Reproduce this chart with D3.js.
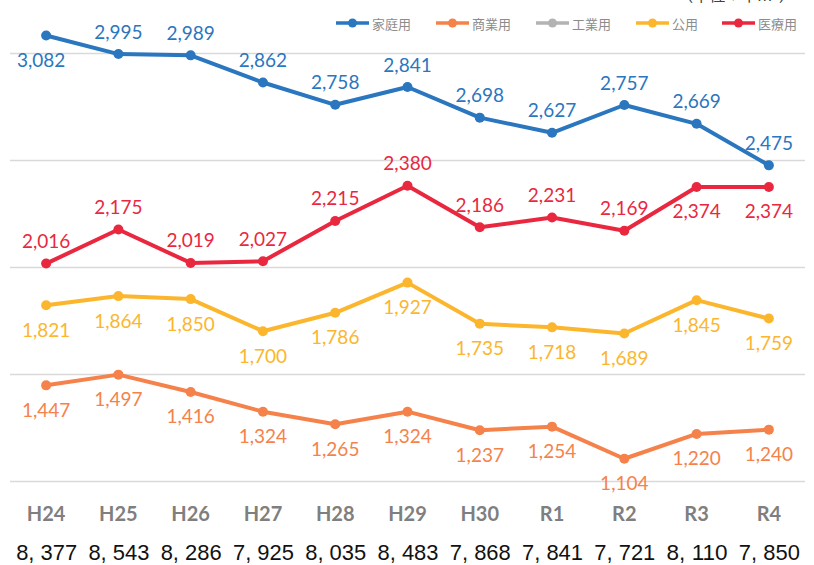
<!DOCTYPE html>
<html>
<head>
<meta charset="utf-8">
<script src="https://cdn.jsdelivr.net/npm/d3@7/dist/d3.min.js"></script>
<style>
  body { margin: 0; background: #fff; }
  svg { display: block; }
</style>
</head>
<body>
<svg id="chart" width="814" height="565"></svg>
<script>
// data
var years = ['H24', 'H25', 'H26', 'H27', 'H28', 'H29', 'H30', 'R1', 'R2', 'R3', 'R4'];
var katei   = [3082, 2995, 2989, 2862, 2758, 2841, 2698, 2627, 2757, 2669, 2475];
var shogyo  = [1447, 1497, 1416, 1324, 1265, 1324, 1237, 1254, 1104, 1220, 1240];
var kogyo   = [11, 12, 12, 12, 11, 11, 12, 11, 2, 2, 2];
var koyo    = [1821, 1864, 1850, 1700, 1786, 1927, 1735, 1718, 1689, 1845, 1759];
var iryo    = [2016, 2175, 2019, 2027, 2215, 2380, 2186, 2231, 2169, 2374, 2374];
var totals  = ['8, 377', '8, 543', '8, 286', '7, 925', '8, 035', '8, 483', '7, 868', '7, 841', '7, 721', '8, 110', '7, 850'];
var yTicks  = [1000, 1500, 2000, 2500, 3000];

// where the data label sits: 'a' above the point, 'b' below
var kateiLbl  = ['b','a','a','a','a','a','a','a','a','a','a'];
var shogyoLbl = ['b','b','b','b','b','b','b','b','b','b','b'];
var koyoLbl   = ['b','b','b','b','b','b','b','b','b','b','b'];
var iryoLbl   = ['a','a','a','a','a','a','a','a','a','b','b'];

var series = [
  { name: '家庭用', values: katei,  color: '#2a76bf', labels: kateiLbl },
  { name: '商業用', values: shogyo, color: '#f5824a', labels: shogyoLbl },
  { name: '工業用', values: kogyo,  color: '#b3b3b3', labels: null },
  { name: '公用',   values: koyo,   color: '#fbb62e', labels: koyoLbl },
  { name: '医療用', values: iryo,   color: '#e9283f', labels: iryoLbl }
];

var svg = d3.select('#chart');
var left = 10, right = 805;

var x = d3.scalePoint()
  .domain(years)
  .range([left, right])
  .padding(0.5);

var y = d3.scaleLinear()
  .domain([1000, 3000])
  .range([481, 53]);

// grid
svg.append('g')
  .selectAll('line')
  .data(yTicks)
  .join('line')
  .attr('x1', left)
  .attr('x2', right)
  .attr('y1', function(d) { return y(d) + 0.5 })
  .attr('y2', function(d) { return y(d) + 0.5 })
  .attr('stroke', '#d9d9d9')
  .attr('stroke-width', 1.3);

svg.append('clipPath')
  .attr('id', 'plot')
  .append('rect')
  .attr('x', 0).attr('y', -80)
  .attr('width', 814).attr('height', y(1000) + 80 + 1);

var line = d3.line()
  .x(function(d, i) { return x(years[i]) })
  .y(function(d) { return y(d) });

var plot = svg.append('g').attr('clip-path', 'url(#plot)');

series.forEach(function(s) {
  plot.append('path')
    .datum(s.values)
    .attr('fill', 'none')
    .attr('stroke', s.color)
    .attr('stroke-width', 4)
    .attr('stroke-linejoin', 'round')
    .attr('d', line);

  plot.selectAll(null)
    .data(s.values)
    .join('circle')
    .attr('cx', function(d, i) { return x(years[i]) })
    .attr('cy', function(d) { return y(d) })
    .attr('r', 5)
    .attr('fill', s.color);
});

// data labels
var fmt = d3.format(',');
series.forEach(function(s) {
  if (!s.labels) return;
  svg.append('g')
    .selectAll('text')
    .data(s.values)
    .join('text')
    .attr('x', function(d, i) { return x(years[i]) - (i == 0 && s.name == '家庭用' ? 5 : 0) })
    .attr('y', function(d, i) { return y(d) + (s.labels[i] == 'a' ? -23 : 24) })
    .attr('text-anchor', 'middle')
    .attr('dominant-baseline', 'central')
    .attr('font-family', 'Lato, "Open Sans", sans-serif')
    .attr('font-size', 19)
    .attr('fill', s.color)
    .text(function(d) { return fmt(d) });
});

// category labels
svg.append('g')
  .selectAll('text')
  .data(years)
  .join('text')
  .attr('x', function(d) { return x(d) })
  .attr('y', 513)
  .attr('text-anchor', 'middle')
  .attr('dominant-baseline', 'central')
  .attr('font-family', 'Lato, "Open Sans", sans-serif')
  .attr('font-weight', 'bold')
  .attr('font-size', 20)
  .attr('fill', '#7f7f7f')
  .text(function(d) { return d });

// totals row (narrow face, squeezed to width)
svg.append('g')
  .selectAll('text')
  .data(totals)
  .join('text')
  .attr('x', function(d, i) { return x(years[i]) - 30 })
  .attr('y', 552)
  .attr('dominant-baseline', 'central')
  .attr('font-family', '"Liberation Sans", Arial, sans-serif')
  .attr('font-size', 22)
  .attr('textLength', 61)
  .attr('lengthAdjust', 'spacingAndGlyphs')
  .attr('fill', '#111')
  .text(function(d) { return d });

// legend
var legendX = [336, 436, 536, 636, 722];
var lg = svg.append('g')
  .selectAll('g')
  .data(series)
  .join('g')
  .attr('transform', function(d, i) { return 'translate(' + legendX[i] + ',23)' });

lg.append('line')
  .attr('x1', 0).attr('x2', 33)
  .attr('stroke', function(d) { return d.color })
  .attr('stroke-width', 3.5);
lg.append('circle')
  .attr('cx', 16.5)
  .attr('r', 4.5)
  .attr('fill', function(d) { return d.color });
lg.append('text')
  .attr('x', 36)
  .attr('dominant-baseline', 'central')
  .attr('font-family', '"Noto Sans CJK JP", sans-serif')
  .attr('font-size', 13)
  .attr('fill', '#8c8c8c')
  .text(function(d) { return d.name });

// unit note, cut off at the top edge as in the source image
svg.append('text')
  .attr('x', 736)
  .attr('y', 1)
  .attr('text-anchor', 'middle')
  .attr('font-family', '"Noto Sans CJK JP", sans-serif')
  .attr('font-size', 16)
  .attr('fill', '#404040')
  .text('（単位：千m³）');
</script>
</body>
</html>
